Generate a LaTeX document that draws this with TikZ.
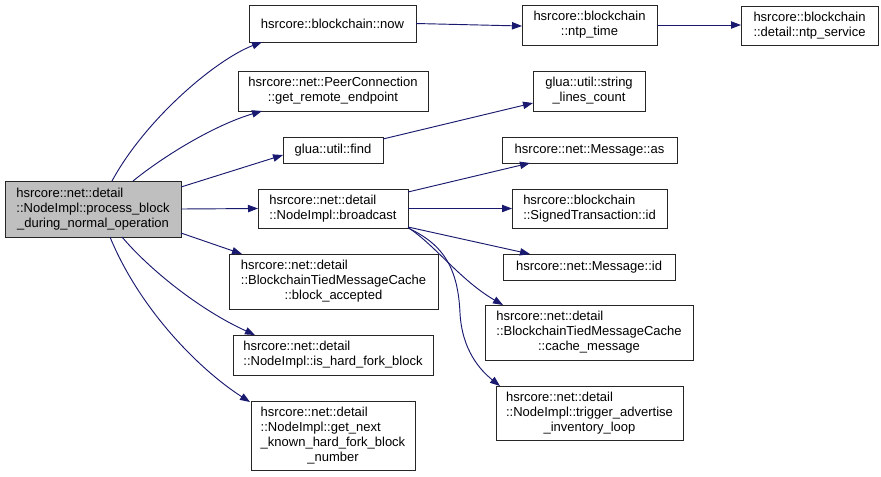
\documentclass[tikz,border=0pt]{standalone}
\usepackage{fontspec}
\setmainfont{Liberation Sans}
\usetikzlibrary{arrows.meta}
\definecolor{edgecol}{HTML}{191970}
\definecolor{mainfill}{HTML}{BFBFBF}
\newcommand\mlines[2]{\begin{tabular}{@{}l@{}}#1\\\multicolumn{1}{@{}c@{}}{#2}\end{tabular}}
\newcommand\bx[7]{\node[fnbox,#6,minimum width={(#4-#2)*0.75pt},minimum height={(#5-#3)*0.75pt}] (#1) at ({(#2+#4)/2},{(#3+#5)/2}) {#7};}
\begin{document}
\begin{tikzpicture}[x=0.75pt,y=-0.75pt,
  fnbox/.style={draw=black!85,line width=0.75pt,inner sep=0pt,outer sep=0pt,
    font=\fontsize{9.75}{11.25}\selectfont,align=center},
  call/.style={draw=edgecol,line width=0.7pt,
    -{Triangle[length=7.5pt,width=5.5pt,fill=edgecol]}}]
\fill[white] (0,0) rectangle (881,476);
\useasboundingbox (0,0) rectangle (881,476);
\bx{main}{5}{181}{181}{237}{fill=mainfill}{\mlines{hsrcore::net::detail\\::NodeImpl::process\_block}{\_during\_normal\_operation}}
\bx{now}{249}{5}{416}{42}{}{hsrcore::blockchain::now}
\bx{ntptime}{522}{5}{657}{45}{}{\mlines{hsrcore::blockchain}{::ntp\_time}}
\bx{ntpservice}{741}{6}{878}{45}{}{\mlines{hsrcore::blockchain}{::detail::ntp\_service}}
\bx{peer}{238}{71}{428}{111}{}{\mlines{hsrcore::net::PeerConnection}{::get\_remote\_endpoint}}
\bx{strlines}{533}{71}{645}{111}{}{\mlines{glua::util::string}{\_lines\_count}}
\bx{find}{283}{137}{383}{163}{}{glua::util::find}
\bx{msgas}{502}{137}{677}{163}{}{hsrcore::net::Message::as}
\bx{broadcast}{258}{189}{408}{228}{}{\mlines{hsrcore::net::detail}{::NodeImpl::broadcast}}
\bx{signedid}{512}{189}{667}{228}{}{\mlines{hsrcore::blockchain}{::SignedTransaction::id}}
\bx{msgid}{503}{254}{675}{280}{}{hsrcore::net::Message::id}
\bx{blockacc}{229}{254}{438}{309}{}{\mlines{hsrcore::net::detail\\::BlockchainTiedMessageCache}{::block\_accepted}}
\bx{ishard}{233}{335}{433}{375}{}{\mlines{hsrcore::net::detail}{::NodeImpl::is\_hard\_fork\_block}}
\bx{getnext}{251}{401}{415}{470}{}{\mlines{hsrcore::net::detail\\::NodeImpl::get\_next\\\_known\_hard\_fork\_block}{\_number}}
\bx{cachemsg}{485}{305}{693}{360}{}{\mlines{hsrcore::net::detail\\::BlockchainTiedMessageCache}{::cache\_message}}
\bx{trigger}{496}{386}{683}{440}{}{\mlines{hsrcore::net::detail\\::NodeImpl::trigger\_advertise}{\_inventory\_loop}}
% edges from main
\draw[call] ([shift={(107,0)}]main.north west) .. controls (145,120) and (215,60) .. ([shift={(13,0)}]now.south west);
\draw[call] ([shift={(128,0)}]main.north west) .. controls (165,155) and (215,125) .. ([shift={(24,0)}]peer.south west);
\draw[call] ([shift={(0,6)}]main.north east) -- ([shift={(0,-8)}]find.south west);
\draw[call] (main.east) -- (broadcast.west);
\draw[call] ([shift={(0,-4)}]main.south east) -- ([shift={(13,0)}]blockacc.north west);
\draw[call] ([shift={(117,0)}]main.south west) .. controls (150,270) and (200,310) .. ([shift={(22,0)}]ishard.north west);
\draw[call] ([shift={(105,0)}]main.south west) .. controls (140,310) and (200,370) .. ([shift={(-1,1)}]getnext.north west);
% other edges
\draw[call] (now.east) -- ([shift={(0,1)}]ntptime.west);
\draw[call] (ntptime.east) -- ([shift={(0,-0.5)}]ntpservice.west);
\draw[call] ([shift={(0,2)}]find.north east) -- ([shift={(0,-8)}]strlines.south west);
\draw[call] ([shift={(0,3)}]broadcast.north east) -- ([shift={(28,0)}]msgas.south west);
\draw[call] (broadcast.east) -- (signedid.west);
\draw[call] ([shift={(0,-1)}]broadcast.south east) -- ([shift={(27,0)}]msgid.north west);
\draw[call] ([shift={(0,-0.5)}]broadcast.south east) .. controls (435,245) and (460,280) .. ([shift={(18,0)}]cachemsg.north west);
\draw[call] (broadcast.south east) .. controls (445,245) and (458,270) .. (460,313) .. controls (462,350) and (480,370) .. ([shift={(4,0)}]trigger.north west);
\end{tikzpicture}
\end{document}
